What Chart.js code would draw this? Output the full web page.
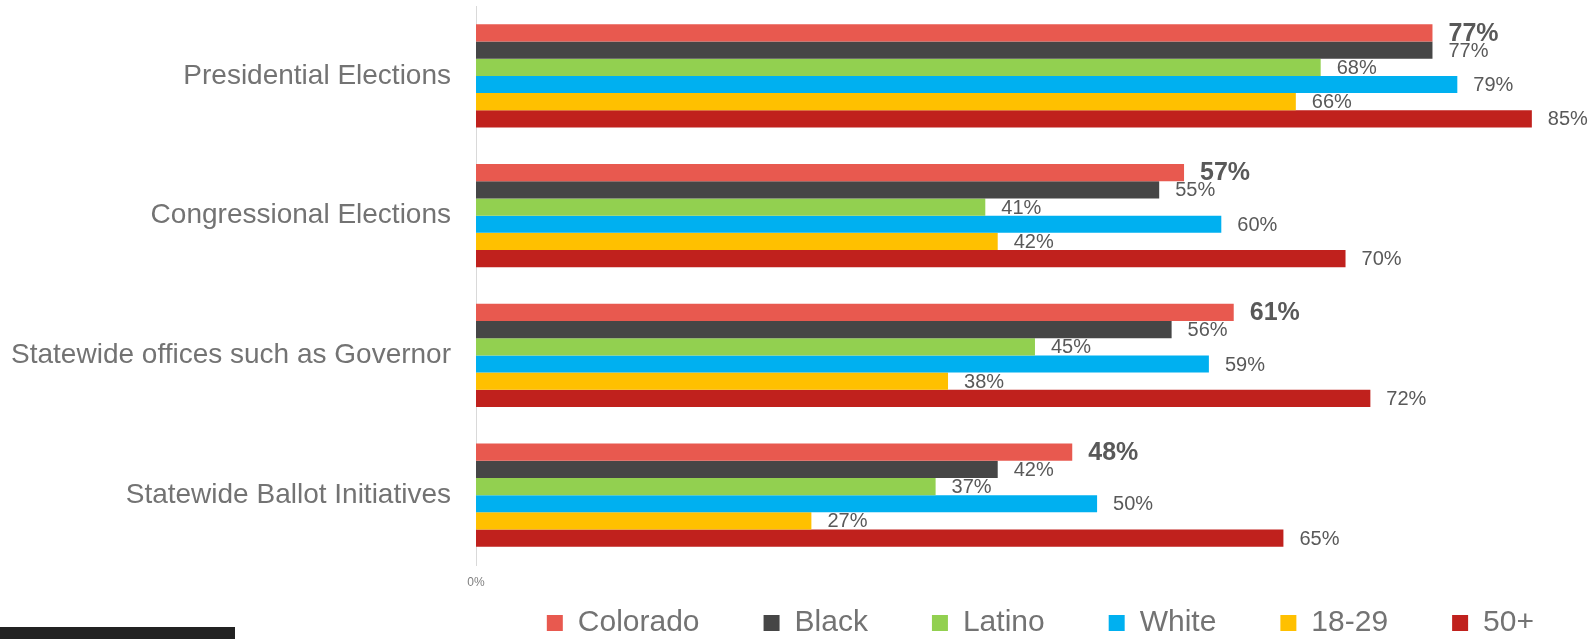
<!DOCTYPE html>
<html>
<head>
<meta charset="utf-8">
<script src="https://cdn.jsdelivr.net/npm/chart.js@4.4.1/dist/chart.umd.min.js"></script>
<style>
    html, body { margin: 0; padding: 0; background: #fff; overflow: hidden; }
    #wrap { position: relative; width: 1595px; height: 639px; }
    #footerBar { position: absolute; left: 0; top: 627px; width: 235px; height: 12px; background: #222; }
</style>
</head>
<body>
<div id="wrap">
    <canvas id="voteChart"></canvas>
    <div id="footerBar"></div>
</div>
<script>
// === DATA ===
const categories = ['Presidential Elections', 'Congressional Elections', 'Statewide offices such as Governor', 'Statewide Ballot Initiatives'];
const seriesNames = ['Colorado', 'Black', 'Latino', 'White', '18-29', '50+'];
const colorado = [77, 57, 61, 48];
const black = [77, 55, 56, 42];
const latino = [68, 41, 45, 37];
const white = [79, 60, 59, 50];
const age1829 = [66, 42, 38, 27];
const age50plus = [85, 70, 72, 65];
const xTickValues = [0];

const colors = ['#E8594F', '#464646', '#92D050', '#00B0F0', '#FFC000', '#C0211D'];
const FONT = '"Liberation Sans", Arial, sans-serif';

// value labels at the end of each bar (Colorado in bold)
const barLabels = {
    id: 'barLabels',
    afterDatasetsDraw(chart) {
        const ctx = chart.ctx;
        ctx.save();
        ctx.textBaseline = 'middle';
        ctx.textAlign = 'left';
        ctx.fillStyle = '#595959';
        chart.data.datasets.forEach((ds, i) => {
            const meta = chart.getDatasetMeta(i);
            ctx.font = i === 0 ? 'bold 25px ' + FONT : '20px ' + FONT;
            meta.data.forEach((bar, j) => {
                ctx.fillText(ds.data[j] + '%', bar.x + 16, bar.y + 1);
            });
        });
        ctx.restore();
    }
};

function initVoteChart() {
    const ctx = document.getElementById('voteChart');
    const values = [colorado, black, latino, white, age1829, age50plus];

    new Chart(ctx, {
        type: 'bar',
        data: {
            labels: categories,
            datasets: seriesNames.map((name, i) => ({
                label: name,
                data: values[i],
                backgroundColor: colors[i],
                borderWidth: 0,
                barPercentage: 1.0,
                categoryPercentage: 0.74
            }))
        },
        options: {
            indexAxis: 'y',
            responsive: true,
            maintainAspectRatio: false,
            animation: false,
            layout: { padding: { left: 0, right: 47, top: 6, bottom: -9 } },
            plugins: {
                tooltip: { enabled: false },
                legend: {
                    position: 'bottom',
                    align: 'end',
                    labels: {
                        color: '#737373',
                        font: { size: 30, family: FONT },
                        boxWidth: 16,
                        boxHeight: 16,
                        padding: 14,
                        generateLabels(chart) {
                            const items = Chart.defaults.plugins.legend.labels.generateLabels(chart);
                            items.forEach((it, i) => {
                                it.lineWidth = 0;
                                if (i < items.length - 1) it.text += '      ';
                            });
                            return items;
                        }
                    }
                }
            },
            scales: {
                x: {
                    min: 0,
                    max: 86.3,
                    grid: { display: false, drawTicks: false },
                    border: { display: false },
                    afterBuildTicks: s => { s.ticks = xTickValues.map(v => ({ value: v })); },
                    afterFit: s => { s.height = 29; },
                    ticks: { color: '#7f7f7f', font: { size: 12, family: FONT }, padding: 10, callback: v => v + '%' }
                },
                y: {
                    grid: { display: false, drawTicks: false },
                    border: { display: true, color: '#d9d9d9', width: 1 },
                    afterFit: s => { s.width = 476; s.paddingTop = 0; s.paddingBottom = 0; },
                    ticks: { color: '#737373', font: { size: 28, family: FONT }, padding: 25 }
                }
            }
        },
        plugins: [barLabels]
    });
}

document.addEventListener('DOMContentLoaded', initVoteChart);
</script>
</body>
</html>
